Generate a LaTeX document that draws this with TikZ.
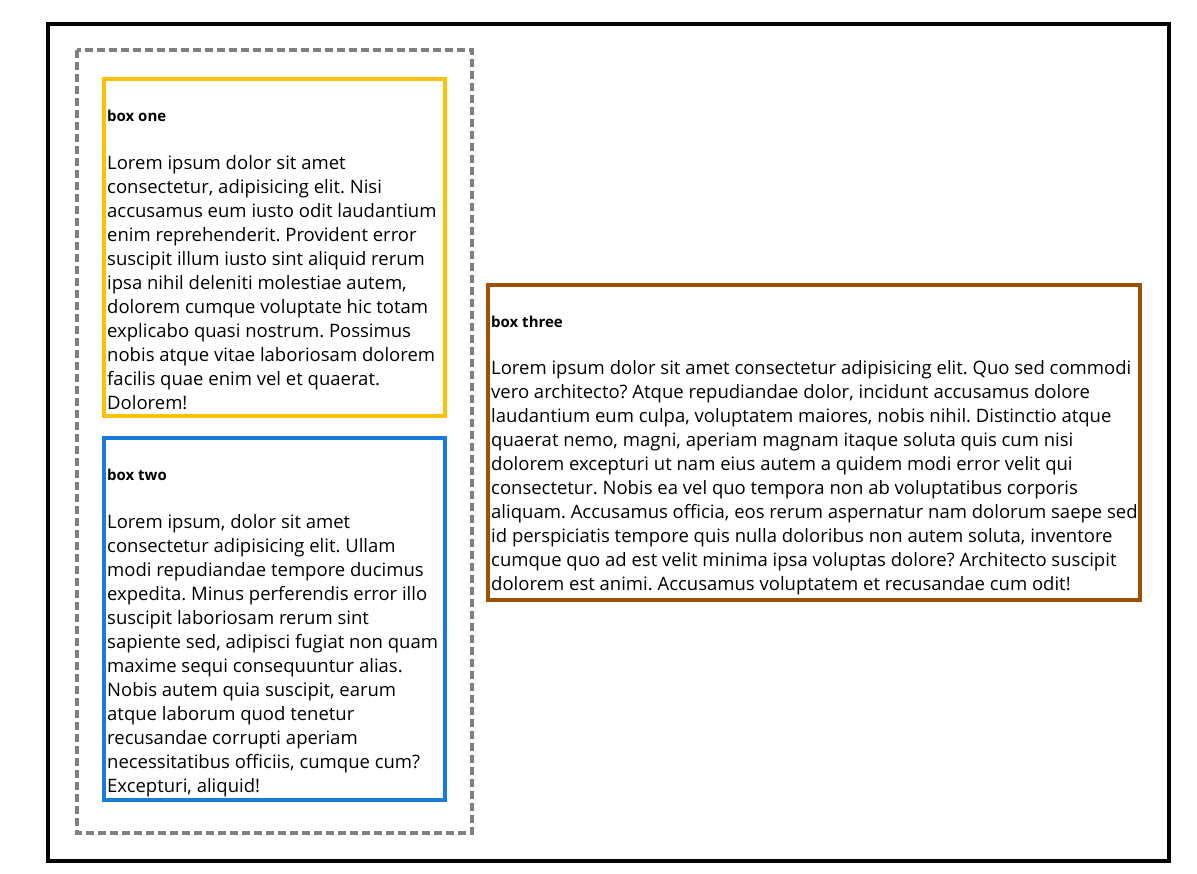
\documentclass[tikz,border=0pt]{standalone}
\usepackage{fontspec}
\setmainfont{Open Sans}
\frenchspacing
\definecolor{boxyellow}{RGB}{255,192,0}
\definecolor{boxblue}{RGB}{24,124,220}
\definecolor{boxbrown}{RGB}{156,82,0}
\definecolor{dashgray}{RGB}{128,128,128}
\tikzset{
  frame/.style={draw=black,line width=4pt},
  wrapper/.style={draw=dashgray,line width=4pt,dash pattern=on 8pt off 4pt},
  card/.style={line width=4pt},
  title/.style={anchor=base west,inner sep=0pt,font=\fontsize{15}{17}\selectfont\bfseries\frenchspacing},
  body/.style={anchor=base west,inner sep=0pt,font=\fontsize{18.5}{24}\selectfont\frenchspacing},
}
\begin{document}
\begin{tikzpicture}[x=1pt,y=-1pt]
\useasboundingbox (0,0) rectangle (1197,873);
\draw[frame] (48,24) rectangle (1169,861);
\draw[wrapper] (77,50) rectangle (472,833);
\draw[card,draw=boxyellow] (104,79) rectangle (445,416);
\draw[card,draw=boxblue] (104,438) rectangle (445,800);
\draw[card,draw=boxbrown] (488,285) rectangle (1140,600);

\node[title] (t1) at (107,121) {box one};
\foreach \t [count=\i] in {
  {Lorem ipsum dolor sit amet},
  {consectetur, adipisicing elit. Nisi},
  {accusamus eum iusto odit laudantium},
  {enim reprehenderit. Provident error},
  {suscipit illum iusto sint aliquid rerum},
  {ipsa nihil deleniti molestiae autem,},
  {dolorem cumque voluptate hic totam},
  {explicabo quasi nostrum. Possimus},
  {nobis atque vitae laboriosam dolorem},
  {facilis quae enim vel et quaerat.},
  {Dolorem!}}
  \node[body] (one\i) at (107,{169+24*(\i-1)}) {\t};

\node[title] (t2) at (107,480) {box two};
\foreach \t [count=\i] in {
  {Lorem ipsum, dolor sit amet},
  {consectetur adipisicing elit. Ullam},
  {modi repudiandae tempore ducimus},
  {expedita. Minus perferendis error illo},
  {suscipit laboriosam rerum sint},
  {sapiente sed, adipisci fugiat non quam},
  {maxime sequi consequuntur alias.},
  {Nobis autem quia suscipit, earum},
  {atque laborum quod tenetur},
  {recusandae corrupti aperiam},
  {necessitatibus officiis, cumque cum?},
  {Excepturi, aliquid!}}
  \node[body] (two\i) at (107,{528+24*(\i-1)}) {\t};

\node[title] (t3) at (491,327) {box three};
\foreach \t [count=\i] in {
  {Lorem ipsum dolor sit amet consectetur adipisicing elit. Quo sed commodi},
  {vero architecto? Atque repudiandae dolor, incidunt accusamus dolore},
  {laudantium eum culpa, voluptatem maiores, nobis nihil. Distinctio atque},
  {quaerat nemo, magni, aperiam magnam itaque soluta quis cum nisi},
  {dolorem excepturi ut nam eius autem a quidem modi error velit qui},
  {consectetur. Nobis ea vel quo tempora non ab voluptatibus corporis},
  {aliquam. Accusamus officia, eos rerum aspernatur nam dolorum saepe sed},
  {id perspiciatis tempore quis nulla doloribus non autem soluta, inventore},
  {cumque quo ad est velit minima ipsa voluptas dolore? Architecto suscipit},
  {dolorem est animi. Accusamus voluptatem et recusandae cum odit!}}
  \node[body] (three\i) at (491,{374+24*(\i-1)}) {\t};
\end{tikzpicture}
\end{document}
